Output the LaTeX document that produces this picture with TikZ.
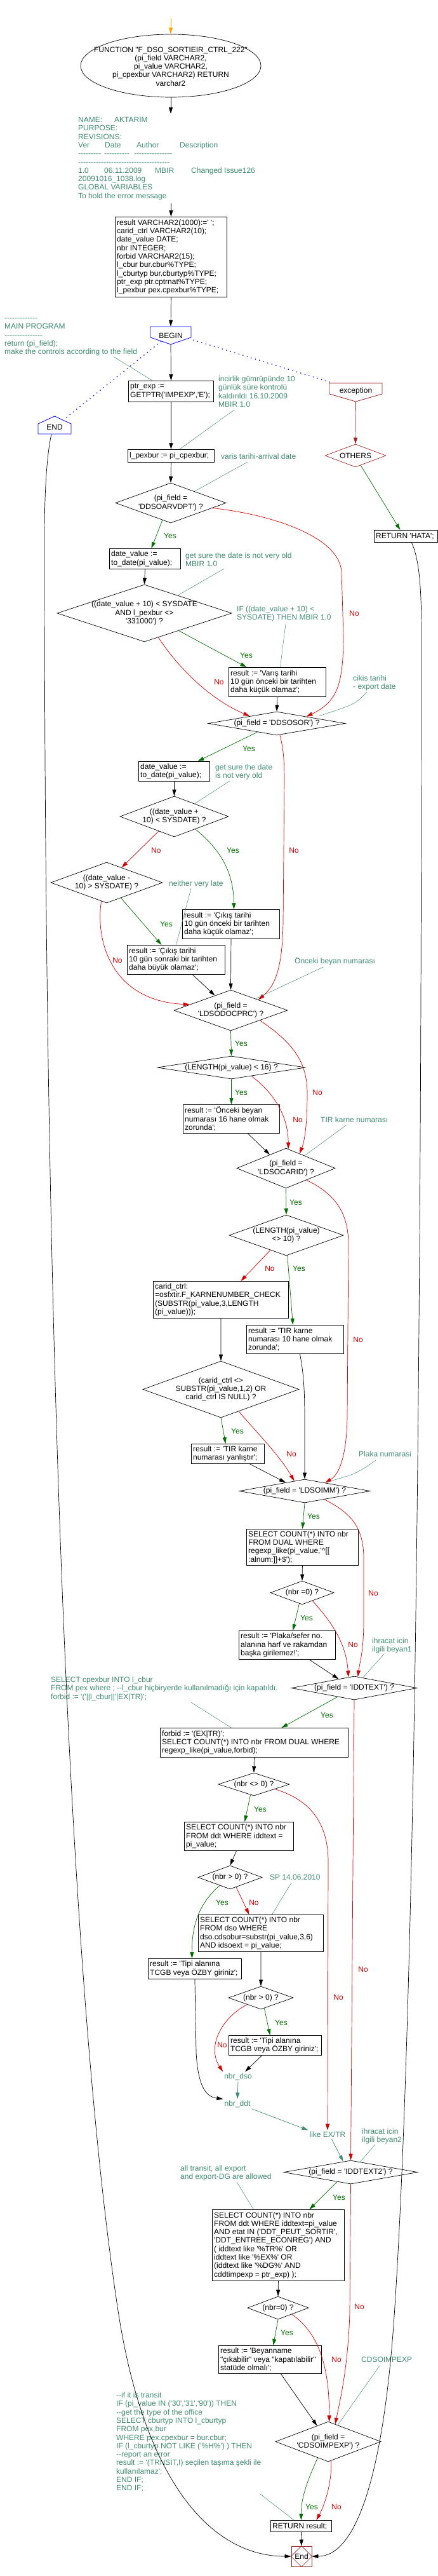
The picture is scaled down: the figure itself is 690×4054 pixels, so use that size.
\documentclass[tikz,border=0pt]{standalone}
\usepackage{fontspec}
\newfontfamily\lsans{Liberation Sans}
\usetikzlibrary{arrows.meta,shapes.geometric,calc}
\definecolor{cmt}{RGB}{64,140,112}
\definecolor{ygreen}{RGB}{0,110,0}
\definecolor{nred}{RGB}{215,0,0}
\definecolor{dred}{RGB}{160,35,35}
\definecolor{bblue}{RGB}{0,0,255}
\definecolor{orng}{RGB}{255,165,0}
\newcommand\mybox[6]{%
  \pgfmathsetmacro\myW{#4-#2}\pgfmathsetmacro\myH{#5-#3}%
  \node[box, minimum width=\myW pt, minimum height=\myH pt] (#1) at (#2,#3) {};
  \node[anchor=west, align=left] (#1t) at ($(#1.west)+(3,0)$) {#6};}
\newcommand\mydia[7][]{%
  \node[dia, minimum width=#5pt, minimum height=#6pt, #1] (#2) at (#3,#4) {};
  \node[align=center] (#2t) at (#3,#4) {#7};}
\begin{document}
\begin{tikzpicture}[x=1pt,y=-1pt,
  every node/.style={font=\lsans\fontsize{12}{13.3}\selectfont, inner sep=0pt},
  box/.style={draw, line width=0.9pt, anchor=north west},
  dia/.style={draw, diamond, line width=0.7pt, inner sep=0pt},
  cmtnode/.style={text=cmt, align=left, anchor=north west},
  arr/.style={line width=0.7pt, -{Triangle[length=10pt,width=6pt]}},
  yarr/.style={arr, ygreen},
  narr/.style={arr, nred},
  carr/.style={arr, cmt},
  cline/.style={cmt, line width=0.5pt},
  ylab/.style={text=ygreen},
  nlab/.style={text=nred},
  dotl/.style={bblue, line width=1.3pt, dash pattern=on 1.3pt off 5.5pt},
]
\fill[white] (0,0) rectangle (690,4054);
\useasboundingbox (0,0) rectangle (690,4054);

% ---------- nodes ----------
\coordinate (start) at (269,29);
\node[draw, ellipse, minimum width=284pt, minimum height=99pt, line width=0.7pt] (func) at (269,103.5) {};
\node[align=center] (funct) at (269,104.5) {FUNCTION "F\_DSO\_SORTIEIR\_CTRL\_222"\\(pi\_field  VARCHAR2,\\pi\_value  VARCHAR2,\\pi\_cpexbur VARCHAR2) RETURN\\varchar2};

\node[cmtnode, inner xsep=0pt, inner ysep=4pt] (hdr) at (123,179) {\strut\makebox[57pt][l]{NAME:}AKTARIM\\PURPOSE:\\REVISIONS:\\\makebox[42pt][l]{Ver}\makebox[50pt][l]{Date}\makebox[68pt][l]{Author}Description\\\makebox[41pt][l]{---------}\makebox[47pt][l]{----------}---------------\\------------------------------------\\\makebox[41pt][l]{1.0}\makebox[80pt][l]{06.11.2009}\makebox[57pt][l]{MBIR}Changed Issue126\\20091016\_1038.log\\GLOBAL VARIABLES\\To hold the error message\strut};

\mybox{decl}{181}{341}{357}{467}{result  VARCHAR2(1000):=' ';\\carid\_ctrl  VARCHAR2(10);\\date\_value  DATE;\\nbr INTEGER;\\forbid  VARCHAR2(15);\\l\_cbur  bur.cbur\%TYPE;\\l\_cburtyp bur.cburtyp\%TYPE;\\ptr\_exp ptr.cptrnat\%TYPE;\\l\_pexbur  pex.cpexbur\%TYPE;}

\node[minimum width=64pt, minimum height=28pt] (begin) at (269,528) {BEGIN};
\draw[bblue, line width=0.8pt] (237,514) -- (301,514) -- (301,531) -- (269,542) -- (237,531) -- cycle;
\node[minimum width=52pt, minimum height=22pt] (endtop) at (86,672) {END};
\draw[bblue, line width=0.8pt] (60,683) -- (60,667) -- (86,655) -- (112,667) -- (112,683) -- cycle;

\node[cmtnode] (cmain) at (7,495) {\strut-------------\\MAIN PROGRAM\\---------------\\return (pi\_field);\\make the controls according to the field};

\mybox{ptr}{202}{599}{336}{632}{ptr\_exp :=\\GETPTR('IMPEXP','E');}
\node[cmtnode] (cinc) at (344,591) {\strut incirlik gümrüpünde 10\\günlük süre kontrolü\\kaldırıldı 16.10.2009\\MBIR 1.0};

\node[minimum width=83pt, minimum height=22pt] (exc) at (560.5,615) {exception};
\draw[dred, line width=0.8pt] (519,603) -- (602,603) -- (602,620) -- (560.5,632) -- (519,620) -- cycle;
\coordinate (excpt) at (560.5,632);
\mydia[draw=dred]{others}{560}{717}{96}{36}{OTHERS}
\mybox{hata}{589}{834}{689}{853}{RETURN 'HATA';}

\mybox{lpex}{201}{707}{337}{727}{l\_pexbur := pi\_cpexbur;}
\node[cmtnode] (cvaris) at (348,713) {\strut varis tarihi-arrival date};
\mydia{d1}{269}{791.5}{174}{63}{(pi\_field =\\'DDSOARVDPT') ?}
\mybox{dv1}{172}{863}{284}{895}{date\_value :=\\to\_date(pi\_value);}
\node[cmtnode] (cget1) at (292,869) {\strut get sure the date is not very old\\MBIR 1.0};
\mydia{d2}{227.5}{965}{275}{90}{((date\_value + 10) < SYSDATE\\AND l\_pexbur <>\\'331000') ?}
\node[cmtnode] (cif) at (373,953) {\strut IF ((date\_value + 10) <\\SYSDATE) THEN  MBIR 1.0};
\mybox{varis}{360}{1050}{513}{1096}{result := 'Varış tarihi\\10 gün önceki bir tarihten\\daha küçük olamaz';}
\node[cmtnode] (ccikis) at (556,1062) {\strut cikis tarihi\\- export date};
\mydia{dsosor}{436}{1138.5}{216}{37}{(pi\_field = 'DDSOSOR') ?}
\mybox{dv2}{218}{1198}{330}{1229}{date\_value :=\\to\_date(pi\_value);}
\node[cmtnode] (cget2) at (339,1202) {\strut get sure the date\\is not very old};
\mydia{d3}{274.5}{1285}{171}{64}{((date\_value +\\10) < SYSDATE) ?}
\mydia{d4}{168}{1389}{176}{64}{((date\_value -\\10) >  SYSDATE) ?}
\node[cmtnode] (cneither) at (266,1385) {\strut neither very late};
\mybox{cik1}{287}{1431}{440}{1477}{result := 'Çıkış tarihi\\10 gün önceki bir tarihten\\daha küçük olamaz';}
\mybox{cik2}{200}{1487}{354}{1533}{result := 'Çıkış tarihi\\10 gün sonraki bir tarihten\\daha büyük olamaz';}
\mydia{docprc}{363.5}{1590}{179}{64}{(pi\_field =\\'LDSODOCPRC') ?}
\node[cmtnode] (conceki) at (464,1506) {\strut Önceki beyan numarası};
\mydia{len16}{364.5}{1680}{233}{36}{(LENGTH(pi\_value) < 16) ?}
\mybox{onceki}{288}{1738}{440}{1783}{result := 'Önceki beyan\\numarası 16 hane olmak\\zorunda';}
\mydia{dcarid}{450.5}{1838.5}{155}{63}{(pi\_field =\\'LDSOCARID') ?}
\node[cmtnode] (ctir) at (505,1757) {\strut TIR karne numarası};
\mydia{len10}{451}{1944}{180}{64}{(LENGTH(pi\_value)\\<> 10) ?}
\mybox{carbox}{241}{2016}{454}{2074}{carid\_ctrl:\\=osfxtir.F\_KARNENUMBER\_CHECK\\(SUBSTR(pi\_value,3,LENGTH\\(pi\_value)));}
\mybox{tir10}{388}{2085}{541}{2130}{result := 'TIR karne\\numarası 10 hane olmak\\zorunda';}
\mydia{caridchk}{348}{2186.5}{246}{89}{(carid\_ctrl <>\\SUBSTR(pi\_value,1,2) OR\\carid\_ctrl IS NULL) ?}
\mybox{tiryan}{301}{2272}{416}{2303}{result := 'TIR karne\\numarası yanlıştır';}
\node[cmtnode] (cplaka) at (565,2283) {\strut Plaka numarasi};
\mydia{ldsoimm}{480}{2346.5}{206}{37}{(pi\_field = 'LDSOIMM') ?}
\mybox{selrx}{388}{2406}{564}{2463}{SELECT COUNT(*) INTO  nbr\\FROM  DUAL WHERE\\regexp\_like(pi\_value,'\textasciicircum[[\\:alnum:]]+\$');}
\mydia{nbrz}{476}{2506.5}{100}{37}{(nbr =0) ?}
\mybox{plaka}{376}{2566}{528}{2611}{result := 'Plaka/sefer no.\\alanına harf ve rakamdan\\başka girilemez!';}
\node[cmtnode] (cihr1) at (586,2577) {\strut ihracat icin\\ilgili beyan1};
\mydia{iddtext}{558}{2656.5}{198}{37}{(pi\_field = 'IDDTEXT') ?}
\node[cmtnode] (csel) at (80,2638) {\strut SELECT cpexbur  INTO l\_cbur\\FROM pex where ; --l\_cbur hiçbiryerde kullanılmadığı için kapatıldı.\\forbid := '('||l\_cbur||'|EX|TR)';};
\mybox{forbid}{252}{2719}{548}{2765}{forbid := '(EX|TR)';\\SELECT COUNT(*) INTO  nbr FROM  DUAL WHERE\\regexp\_like(pi\_value,forbid);}
\mydia{nbrne}{400}{2808}{112}{36}{(nbr <> 0) ?}
\mybox{selddt}{290}{2867}{462}{2912}{SELECT COUNT(*) INTO nbr\\FROM ddt WHERE iddtext =\\pi\_value;}
\mydia{gta}{362.5}{2954.5}{101}{37}{(nbr > 0) ?}
\node[cmtnode] (csp) at (425,2949) {\strut SP 14.06.2010};
\mybox{seldso}{312}{3013}{509}{3071}{SELECT COUNT(*)  INTO nbr\\FROM dso WHERE\\dso.cdsobur=substr(pi\_value,3,6)\\AND idsoext = pi\_value;}
\mybox{tipia}{233}{3082}{380}{3114}{result := 'Tipi alanına\\TCGB veya ÖZBY giriniz';}
\mydia{gtb}{411}{3144}{102}{36}{(nbr > 0) ?}
\mybox{tipib}{360}{3203}{506}{3234}{result := 'Tipi alanına\\TCGB veya ÖZBY giriniz';}
\node[text=cmt, inner sep=2pt] (nbrdso) at (375,3268) {nbr\_dso};
\node[text=cmt, inner sep=2pt] (nbrddt) at (374,3311) {nbr\_ddt};
\node[text=cmt, inner sep=2pt] (likeex) at (516,3359) {like EX/TR};
\node[cmtnode] (cihr2) at (570,3349) {\strut ihracat icin\\ilgili beyan2};
\mydia{iddtext2}{552.5}{3418.5}{211}{37}{(pi\_field = 'IDDTEXT2') ?}
\node[cmtnode] (call) at (284,3407) {\strut all transit, all export\\and export-DG are allowed};
\mybox{selbig}{334}{3477}{542}{3589}{SELECT COUNT(*) INTO nbr\\FROM ddt WHERE  iddtext=pi\_value\\AND  etat IN ('DDT\_PEUT\_SORTIR',\\'DDT\_ENTREE\_ECONREG') AND\\( iddtext like '\%TR\%' OR\\iddtext like '\%EX\%' OR\\(iddtext like '\%DG\%' AND\\cddtimpexp = ptr\_exp) );}
\mydia{nbrzb}{438}{3632}{96}{36}{(nbr=0) ?}
\mybox{beyan}{344}{3691}{506}{3735}{result := 'Beyanname\\"çıkabilir" veya "kapatılabilir"\\statüde olmalı';}
\node[cmtnode] (ccdso) at (569,3708) {\strut CDSOIMPEXP};
\mydia{cdso}{517}{3842.5}{166}{63}{(pi\_field =\\'CDSOIMPEXP') ?}
\node[cmtnode] (ctrans) at (183,3764) {\strut --if it is transit\\IF (pi\_value IN ('30','31','90')) THEN\\--get the type of the office\\SELECT cburtyp INTO l\_cburtyp\\FROM pex,bur\\WHERE  pex.cpexbur = bur.cbur;\\IF (l\_cburtyp NOT LIKE ('\%H\%') ) THEN\\--report an error\\result := '(TRNSİT,I) seçilen taşıma şekli ile\\kullanılamaz';\\END IF;\\END IF;};
\mybox{retres}{426}{3966}{522}{3984}{RETURN result;}
\node[draw=dred, line width=0.8pt, minimum width=32pt, minimum height=32pt] (endn) at (475,4023) {End};
\draw[dred, line width=0.6pt] (endn.north) -- (endn.east) -- (endn.south) -- (endn.west) -- cycle;

% ---------- Yes / No labels ----------
\node[ylab] (y1) at (268,843) {Yes};
\node[ylab] (y2) at (388,1031) {Yes};
\node[ylab] (y3) at (392,1178) {Yes};
\node[ylab] (y4) at (367,1338) {Yes};
\node[ylab] (y5) at (262,1454) {Yes};
\node[ylab] (y6) at (380,1642) {Yes};
\node[ylab] (y7) at (380,1719) {Yes};
\node[ylab] (y8) at (466,1892) {Yes};
\node[ylab] (y9) at (471,1996) {Yes};
\node[ylab] (y10) at (374,2252) {Yes};
\node[ylab] (y11) at (494,2386) {Yes};
\node[ylab] (y12) at (483,2546) {Yes};
\node[ylab] (y13) at (515,2699) {Yes};
\node[ylab] (y14) at (410,2847) {Yes};
\node[ylab] (y15) at (350,2994) {Yes};
\node[ylab] (y16) at (443,3183) {Yes};
\node[ylab] (y17) at (534,3458) {Yes};
\node[ylab] (y18) at (452,3671) {Yes};
\node[ylab] (y19) at (491,3945) {Yes};
\node[nlab] (n1) at (558,965) {No};
\node[nlab] (n2) at (345,1073) {No};
\node[nlab] (n3) at (463,1338) {No};
\node[nlab] (n4) at (246,1338) {No};
\node[nlab] (n5) at (185,1511) {No};
\node[nlab] (n6) at (500,1719) {No};
\node[nlab] (n7) at (469,1762) {No};
\node[nlab] (n8) at (425,1996) {No};
\node[nlab] (n9) at (564,2108) {No};
\node[nlab] (n10) at (459,2288) {No};
\node[nlab] (n11) at (588,2507) {No};
\node[nlab] (n12) at (556,2588) {No};
\node[nlab] (n13) at (572,3099) {No};
\node[nlab] (n14) at (533,3143) {No};
\node[nlab] (n15) at (400,2994) {No};
\node[nlab] (n16) at (350,3218) {No};
\node[nlab] (n17) at (566,3630) {No};
\node[nlab] (n18) at (530,3713) {No};
\node[nlab] (n19) at (530,3945) {No};

% ---------- connectors ----------
\draw[arr, orng] (start) -- (func.north);
\draw[arr] (func.south) -- (func.south |- hdr.north);
\draw[arr] (decl.north |- hdr.south) -- (decl.north);
\draw[arr] (decl.south) -- (begin.north);
\draw[arr] (begin.south) -- (ptr.north);
\draw[arr] (ptr.south) -- (lpex.north);
\draw[arr] (lpex.south) -- (d1.north);
\draw[dotl] ($(begin.south)+(-15,-5)$) -- ($(endtop.north)+(15,-1)$);
\draw[dotl] ($(begin.east)+(3,7)$) -- ($(exc.north west)+(6,-1)$);
\draw[arr, dred] (excpt) -- (others.north);
\draw[yarr] (others.-62) -- ($(hata.north)+(-9,0)$);

\draw[yarr] (d1.-116) -- ($(dv1.north)+(10,0)$);
\draw[narr] (d1.-7) .. controls (430,810) and (535,845) .. (538,900) -- (541,1000) .. controls (541,1080) and (530,1105) .. (dsosor.13);
\draw[arr] (dv1.south) -- (d2.north);
\draw[yarr] (d2.-27) -- ($(varis.north)+(-48.5,0)$);
\draw[narr] (d2.-60) .. controls (280,1050) and (330,1100) .. (dsosor.165);
\draw[arr] (varis.south) -- (dsosor.north);
\draw[yarr] (dsosor.-156) -- ($(dv2.north)+(37,0)$);
\draw[narr] (dsosor.-75) .. controls (447,1180) and (448,1200) .. (448,1230) -- (446,1450) .. controls (445,1520) and (435,1550) .. (docprc.21);
\draw[arr] (dv2.south) -- (d3.north);
\draw[narr] (d3.-137) -- (d4.45);
\draw[yarr] (d3.-31) .. controls (345,1335) and (368,1370) .. ($(cik1.north)+(4.5,0)$);
\draw[yarr] (d4.-47) -- ($(cik2.north)+(-23,0)$);
\draw[narr] (d4.-106) .. controls (150,1480) and (175,1575) .. (docprc.172);
\draw[arr] (cik1.south) -- (docprc.north);
\draw[arr] ($(cik2.south)+(26,0)$) -- (docprc.137);
\draw[yarr] (docprc.south) -- (len16.north);
\draw[narr] (docprc.-19) .. controls (460,1640) and (484,1670) .. (484,1720) .. controls (484,1770) and (480,1795) .. (dcarid.47);
\draw[yarr] (len16.south) -- (onceki.north);
\draw[narr] (len16.-23) .. controls (425,1715) and (454,1750) .. (dcarid.83);
\draw[arr] ($(onceki.south)+(26,0)$) -- (dcarid.140);
\draw[yarr] (dcarid.south) -- (len10.north);
\draw[narr] (dcarid.-30) .. controls (530,1880) and (549,1910) .. (549,1960) -- (547,2230) .. controls (546,2290) and (535,2320) .. (ldsoimm.22);
\draw[narr] (len10.-137) -- ($(carbox.north)+(31.5,0)$);
\draw[yarr] (len10.-87) -- ($(tir10.north)+(-3.5,0)$);
\draw[arr] (carbox.south) -- (caridchk.north);
\draw[yarr] (caridchk.south) -- ($(tiryan.north)+(-3.5,0)$);
\draw[narr] (caridchk.-51) .. controls (405,2255) and (440,2290) .. (ldsoimm.136);
\draw[arr] ($(tir10.south)+(7.5,0)$) .. controls (480,2170) and (480,2200) .. (480,2250) -- (ldsoimm.north);
\draw[arr] ($(tiryan.south)+(34.5,0)$) -- (ldsoimm.156);
\draw[yarr] (ldsoimm.south) -- (selrx.north);
\draw[narr] (ldsoimm.-23) .. controls (550,2380) and (572,2400) .. (573,2450) -- (573,2550) .. controls (573,2600) and (566,2620) .. (iddtext.72);
\draw[arr] (selrx.south) -- (nbrz.north);
\draw[yarr] (nbrz.-105) -- ($(plaka.north)+(9,0)$);
\draw[narr] (nbrz.-38) .. controls (515,2545) and (545,2580) .. (iddtext.118);
\draw[arr] ($(plaka.south)+(35,0)$) -- (iddtext.150);
\draw[yarr] (iddtext.-152) -- ($(forbid.north)+(43,0)$);
\draw[narr] (iddtext.south) -- (iddtext2.north);
\draw[arr] (forbid.south) -- (nbrne.north);
\draw[yarr] (nbrne.-108) -- ($(selddt.north)+(9,0)$);
\draw[narr] (nbrne.-13) .. controls (480,2830) and (517,2860) .. (517,2930) -- (likeex.north);
\draw[arr] ($(selddt.south)+(-4,0)$) -- (gta.north);
\draw[yarr] (gta.-142) .. controls (320,2990) and (302,3020) .. ($(tipia.north)+(-4.5,0)$);
\draw[narr] (gta.-58) -- ($(seldso.north)+(-18.5,0)$);
\draw[arr] (seldso.south) -- (gtb.north);
\draw[yarr] (gtb.-72) -- ($(tipib.north)+(-8,0)$);
\draw[narr] (gtb.-154) .. controls (350,3175) and (325,3220) .. (nbrdso.north west);
\draw[arr] (tipia.south) -- (309,3230) .. controls (312,3285) and (325,3300) .. (nbrddt.north west);
\draw[arr] ($(tipib.south)+(-21,0)$) -- ($(nbrdso.north)+(11,0)$);
\draw[carr] (nbrdso.south) -- (nbrddt.north);
\draw[carr] (nbrddt.south east) -- (likeex.north west);
\draw[carr] ($(likeex.south)+(6,0)$) -- (iddtext2.125);
\draw[yarr] (iddtext2.-145) -- ($(selbig.north)+(49,0)$);
\draw[narr] (iddtext2.south) -- (551,3640) .. controls (548,3730) and (535,3780) .. (cdso.68);
\draw[arr] (selbig.south) -- (nbrzb.north);
\draw[yarr] (nbrzb.south) -- ($(beyan.north)+(5,0)$);
\draw[narr] (nbrzb.-25) .. controls (500,3670) and (519,3720) .. (cdso.87);
\draw[arr] ($(beyan.south)+(17,0)$) -- (cdso.125);
\draw[yarr] (cdso.-123) .. controls (486,3900) and (474,3930) .. (retres.north);
\draw[narr] (cdso.-81) .. controls (523,3910) and (510,3945) .. ($(retres.north)+(24,0)$);
\draw[arr] (retres.south) -- (endn.north);
\draw[arr] ($(endtop.south)+(-5,0)$) .. controls (75,710) and (70,760) .. (70,850) .. controls (70,2300) and (120,3200) .. (185,3630) .. controls (225,3900) and (330,4023) .. (endn.west);
\draw[arr] ($(hata.south)+(9,0)$) .. controls (660,880) and (664,920) .. (664,1000) .. controls (664,2300) and (650,3200) .. (622,3630) .. controls (605,3900) and (560,4023) .. (endn.east);

% ---------- comment connectors ----------
\draw[cline] (180,562) -- ($(ptr.north west)+(38,0)$);
\draw[cline] (369,645) -- ($(lpex.north east)+(-55,0)$);
\draw[cline] (390,727) -- (d1.26);
\draw[cline] (353,895) -- (d2.28);
\draw[cline] (450,982) -- ($(varis.north)+(4.5,0)$);
\draw[cline] (578,1089) .. controls (560,1108) .. ($(dsosor.north)+(67,7)$);
\draw[cline] (362,1229) -- (d3.32);
\draw[cline] (301,1398) -- (cik2.north);
\draw[cline] (509,1522) -- (docprc.25);
\draw[cline] (545,1771) -- (dcarid.34);
\draw[cline] (592,2298) .. controls (560,2320) .. ($(ldsoimm.north)+(37,4)$);
\draw[cline] (605,2603) -- (iddtext.50);
\draw[cline] (301,2679) -- ($(forbid.north)+(-36,0)$);
\draw[cline] (459,2963) -- ($(seldso.north)+(17.5,0)$);
\draw[cline] (591,3375) -- (iddtext2.48);
\draw[cline] (373,3434) -- ($(selbig.north)+(-39,0)$);
\draw[cline] (598,3723) -- (cdso.60);
\draw[cline] (410,3925) -- ($(retres.north west)+(37,0)$);
\end{tikzpicture}
\end{document}
